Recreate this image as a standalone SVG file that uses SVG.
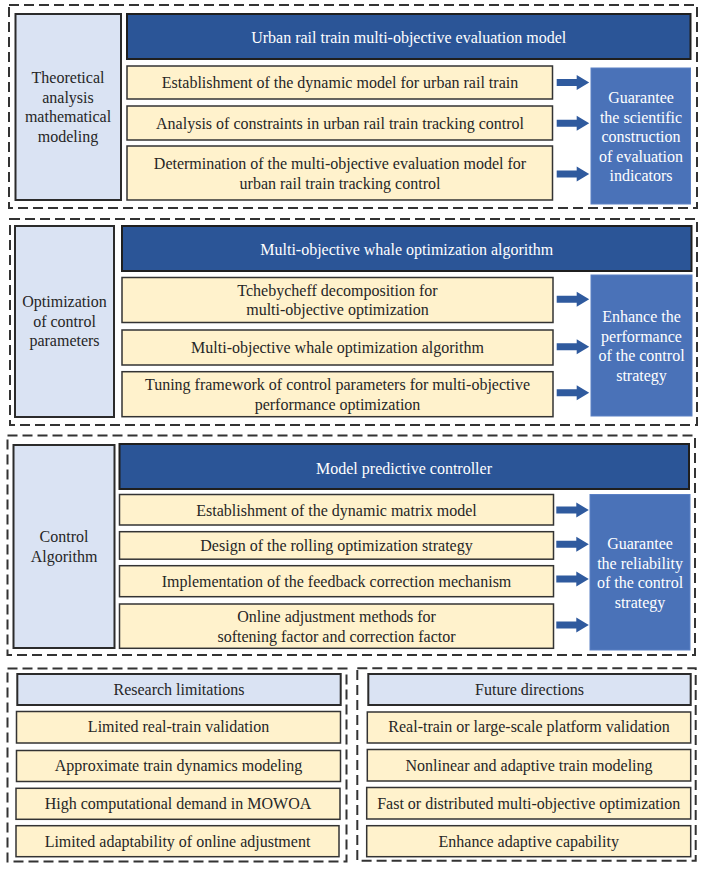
<svg xmlns="http://www.w3.org/2000/svg" width="704" height="871" viewBox="0 0 704 871">
<style>
text{font-family:"Liberation Serif","Times New Roman",serif;font-size:16px;fill:#262626;text-anchor:middle}
.w{fill:#ffffff}
.outer{fill:none;stroke:#333;stroke-width:2;stroke-dasharray:10 5}
.side{fill:#dae3f3;stroke:#2b2b2b;stroke-width:2}
.head{fill:#2b5597;stroke:#1f1f1f;stroke-width:2}
.item{fill:#fff2cc;stroke:#333;stroke-width:1.5}
.goal{fill:#4a72b8;stroke:#5b80c4;stroke-width:1}
.arr{fill:#2f5a9e}
</style>
<defs>
<path id="arrow" d="M0,-3.5 H20 V-7.5 L32.5,0 L20,7.5 V3.5 H0 Z"/>
</defs>
<rect class="outer" x="9" y="5" width="688" height="203"/>
<rect class="outer" x="10" y="219" width="687" height="206"/>
<rect class="outer" x="7.5" y="435.5" width="687.5" height="219.5"/>
<rect class="outer" x="7.5" y="668.5" width="339" height="193"/>
<rect class="outer" x="357.3" y="668.3" width="338.4" height="192.5"/>

<g id="s1-side"><rect class="side" x="15.5" y="14" width="105.5" height="186"/>
<text x="68" y="83">Theoretical</text><text x="68" y="102.5">analysis</text><text x="68" y="122">mathematical</text><text x="68" y="141.5">modeling</text></g>
<g id="s1-head"><rect class="head" x="127" y="14" width="563.5" height="45"/><text class="w" x="408.7" y="43">Urban rail train multi-objective evaluation model</text></g>
<g id="s1-i1"><rect class="item" x="127" y="66" width="425.5" height="33"/><text x="340" y="88">Establishment of the dynamic model for urban rail train</text></g>
<g id="s1-i2"><rect class="item" x="127" y="106" width="425.5" height="34"/><text x="340" y="129">Analysis of constraints in urban rail train tracking control</text></g>
<g id="s1-i3"><rect class="item" x="127" y="146" width="425.5" height="54"/><text x="340" y="169.3">Determination of the multi-objective evaluation model for</text><text x="340" y="188.6">urban rail train tracking control</text></g>
<g id="s1-goal"><rect class="goal" x="591" y="68" width="99.5" height="136"/>
<text class="w" x="641" y="103">Guarantee</text><text class="w" x="641" y="122.5">the scientific</text><text class="w" x="641" y="142">construction</text><text class="w" x="641" y="161.5">of evaluation</text><text class="w" x="641" y="181">indicators</text></g>

<g id="s2-side"><rect class="side" x="15" y="226" width="99" height="191"/>
<text x="64.5" y="307">Optimization</text><text x="64.5" y="326.5">of control</text><text x="64.5" y="346">parameters</text></g>
<g id="s2-head"><rect class="head" x="122" y="226" width="569.5" height="45"/><text class="w" x="406.7" y="254.5">Multi-objective whale optimization algorithm</text></g>
<g id="s2-i1"><rect class="item" x="122" y="277.5" width="431" height="45"/><text x="337.5" y="295.5">Tchebycheff decomposition for</text><text x="337.5" y="315">multi-objective optimization</text></g>
<g id="s2-i2"><rect class="item" x="122" y="330" width="431" height="35"/><text x="337.5" y="352.7">Multi-objective whale optimization algorithm</text></g>
<g id="s2-i3"><rect class="item" x="122" y="371.7" width="431" height="45"/><text x="337.5" y="390">Tuning framework of control parameters for multi-objective</text><text x="337.5" y="409.5">performance optimization</text></g>
<g id="s2-goal"><rect class="goal" x="591" y="275" width="101" height="141"/>
<text class="w" x="641.5" y="322">Enhance the</text><text class="w" x="641.5" y="341.5">performance</text><text class="w" x="641.5" y="361">of the control</text><text class="w" x="641.5" y="380.5">strategy</text></g>

<g id="s3-side"><rect class="side" x="13.5" y="445" width="101" height="203"/>
<text x="64" y="542">Control</text><text x="64" y="561.5">Algorithm</text></g>
<g id="s3-head"><rect class="head" x="119.5" y="444" width="569.5" height="45"/><text class="w" x="404" y="474.3">Model predictive controller</text></g>
<g id="s3-i1"><rect class="item" x="119.5" y="494.5" width="434" height="30.5"/><text x="336.5" y="515.7">Establishment of the dynamic matrix model</text></g>
<g id="s3-i2"><rect class="item" x="119.5" y="531.7" width="434" height="27.5"/><text x="336.5" y="551">Design of the rolling optimization strategy</text></g>
<g id="s3-i3"><rect class="item" x="119.5" y="565.7" width="434" height="31"/><text x="336.5" y="586.7">Implementation of the feedback correction mechanism</text></g>
<g id="s3-i4"><rect class="item" x="119.5" y="604" width="434" height="44.3"/><text x="336.5" y="622.3">Online adjustment methods for</text><text x="336.5" y="641.8">softening factor and correction factor</text></g>
<g id="s3-goal"><rect class="goal" x="590" y="494.5" width="100" height="155.5"/>
<text class="w" x="640" y="549">Guarantee</text><text class="w" x="640" y="568.5">the reliability</text><text class="w" x="640" y="588">of the control</text><text class="w" x="640" y="607.5">strategy</text></g>

<g id="lim-head"><rect class="side" x="17.3" y="674" width="323.4" height="31"/><text x="179" y="695">Research limitations</text></g>
<g id="lim-1"><rect class="item" x="16.5" y="711.5" width="324" height="31.5"/><text x="178.5" y="732.3">Limited real-train validation</text></g>
<g id="lim-2"><rect class="item" x="16.5" y="750.5" width="324" height="31"/><text x="178.5" y="771">Approximate train dynamics modeling</text></g>
<g id="lim-3"><rect class="item" x="16" y="788.3" width="324" height="31"/><text x="178" y="809.3">High computational demand in MOWOA</text></g>
<g id="lim-4"><rect class="item" x="16" y="825.7" width="323" height="31"/><text x="177.5" y="846.7">Limited adaptability of online adjustment</text></g>

<g id="fut-head"><rect class="side" x="368.3" y="674" width="322.4" height="31"/><text x="529.5" y="695">Future directions</text></g>
<g id="fut-1"><rect class="item" x="367.3" y="712" width="323.4" height="31"/><text x="529" y="732.3">Real-train or large-scale platform validation</text></g>
<g id="fut-2"><rect class="item" x="367.3" y="749.5" width="323.4" height="31.5"/><text x="529" y="771">Nonlinear and adaptive train modeling</text></g>
<g id="fut-3"><rect class="item" x="366.7" y="787.5" width="324" height="31.5"/><text x="528.7" y="809.3">Fast or distributed multi-objective optimization</text></g>
<g id="fut-4"><rect class="item" x="366.7" y="825.7" width="324" height="31"/><text x="528.7" y="846.7">Enhance adaptive capability</text></g>

<g id="connectors" class="arr">
<use href="#arrow" x="556.7" y="82.5"/>
<use href="#arrow" x="556.7" y="123.3"/>
<use href="#arrow" x="556.7" y="174"/>
<use href="#arrow" x="556.7" y="299.3"/>
<use href="#arrow" x="556.7" y="346.7"/>
<use href="#arrow" x="556.7" y="392.7"/>
<use href="#arrow" x="556.3" y="510"/>
<use href="#arrow" x="556.3" y="544.3"/>
<use href="#arrow" x="556.3" y="579"/>
<use href="#arrow" x="556.3" y="625"/>
</g>
</svg>
